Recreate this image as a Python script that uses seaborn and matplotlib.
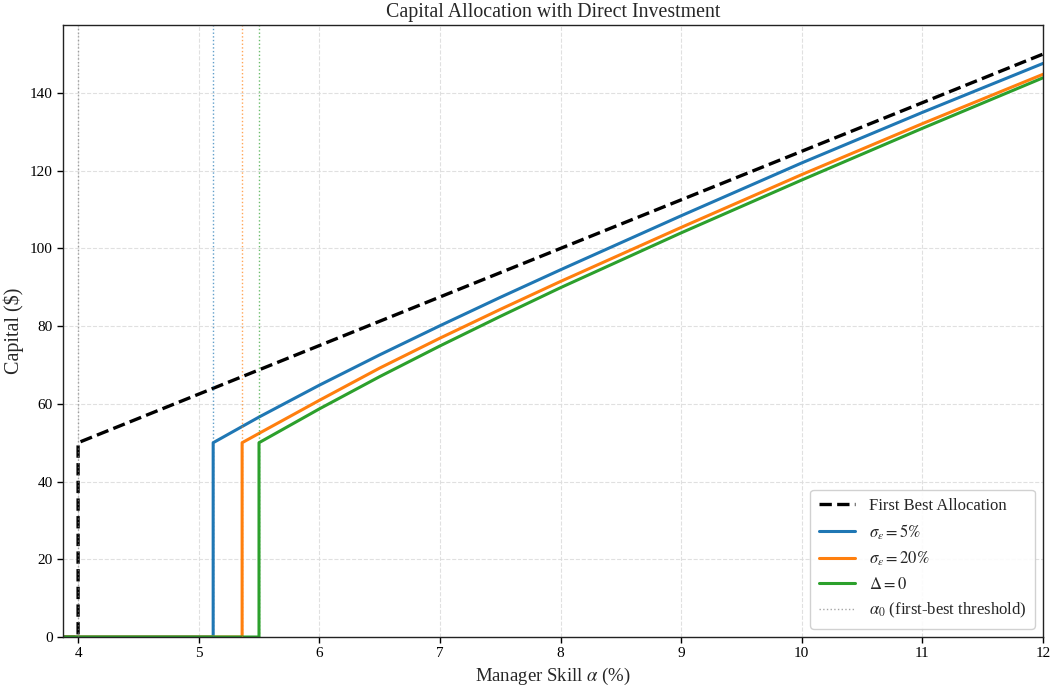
import numpy as np
import pandas as pd
import matplotlib
matplotlib.use("Agg")
import matplotlib.pyplot as plt
import seaborn as sns

# ---- data ----
alpha_fb = [3.875, 4.0, 4.0, 12.0]
capital_fb = [0.0, 0.0, 50.0, 150.0]

alpha_s5 = [3.875, 5.12, 5.12, 5.5, 6.0, 6.5, 7.0, 7.5, 8.0, 9.0, 10.0, 11.0, 12.0]
capital_s5 = [0.0, 0.0, 50.0, 56.6, 64.8, 72.6, 80.1, 87.4, 94.5, 108.4, 122.0, 135.0, 147.6]

alpha_s20 = [3.875, 5.36, 5.36, 5.5, 6.0, 6.5, 7.0, 7.5, 8.0, 9.0, 10.0, 11.0, 12.0]
capital_s20 = [0.0, 0.0, 50.0, 52.4, 60.9, 69.2, 76.9, 84.3, 91.5, 105.4, 119.0, 132.1, 144.8]

alpha_d0 = [3.875, 5.5, 5.5, 6.0, 6.5, 7.0, 7.5, 8.0, 9.0, 10.0, 11.0, 12.0]
capital_d0 = [0.0, 0.0, 50.0, 58.7, 67.0, 74.9, 82.5, 89.9, 104.0, 117.6, 130.9, 143.9]

thresholds = [4.0, 5.12, 5.36, 5.5]

labels = ["First Best Allocation", r"$\sigma_\epsilon = 5\%$",
          r"$\sigma_\epsilon = 20\%$", r"$\Delta = 0$"]
thr_label = r"$\alpha_0$ (first-best threshold)"
colors = ["black", "#1f77b4", "#ff7f0e", "#2ca02c"]
thr_colors = ["gray", "#1f77b4", "#ff7f0e", "#2ca02c"]

sns.set_style("white")
plt.rcParams["font.family"] = ["Liberation Serif", "DejaVu Serif"]
plt.rcParams["mathtext.fontset"] = "stix"

fig = plt.figure(figsize=(10.52, 6.9), dpi=100)
ax = fig.add_axes([0.0599, 0.0768, 0.9315, 0.887])

series = [(alpha_fb, capital_fb), (alpha_s5, capital_s5),
          (alpha_s20, capital_s20), (alpha_d0, capital_d0)]
for i, ((x, y), lab, col) in enumerate(zip(series, labels, colors)):
    df = pd.DataFrame({"alpha": x, "capital": y})
    sns.lineplot(data=df, x="alpha", y="capital", ax=ax, sort=False,
                 estimator=None, color=col, lw=2.4 if i == 0 else 2.2,
                 linestyle="--" if i == 0 else "-", label=lab)

for t, c in zip(thresholds, thr_colors):
    ax.axvline(t, color=c, linestyle=":", lw=1.0, alpha=0.7,
               label=thr_label if c == "gray" else None)

ax.set_xlim(3.875, 12)
ax.set_ylim(0, 157.5)
ax.set_xticks(range(4, 13))
ax.set_yticks(range(0, 141, 20))
ax.grid(True, linestyle="--", color="#dddddd", lw=0.8, alpha=0.9)
ax.tick_params(axis="both", direction="out", length=4, width=1, labelsize=11,
               left=True, bottom=True, colors="black")
for s in ax.spines.values():
    s.set_color("#222222")
    s.set_linewidth(1.0)

ax.set_xlabel(r"Manager Skill $\alpha$ (%)", fontsize=13.5)
ax.set_ylabel("Capital ($)", fontsize=14.5)
ax.set_title("Capital Allocation with Direct Investment", fontsize=14.3)

handles, labs = ax.get_legend_handles_labels()
order = [labs.index(l) for l in labels] + [labs.index(thr_label)]
leg = ax.legend([handles[i] for i in order], [labs[i] for i in order],
                loc="lower right", fontsize=12, frameon=True, framealpha=0.9,
                edgecolor="#cccccc", borderpad=0.5, labelspacing=0.5,
                handlelength=2.2)

fig.savefig("out.png", dpi=100)
